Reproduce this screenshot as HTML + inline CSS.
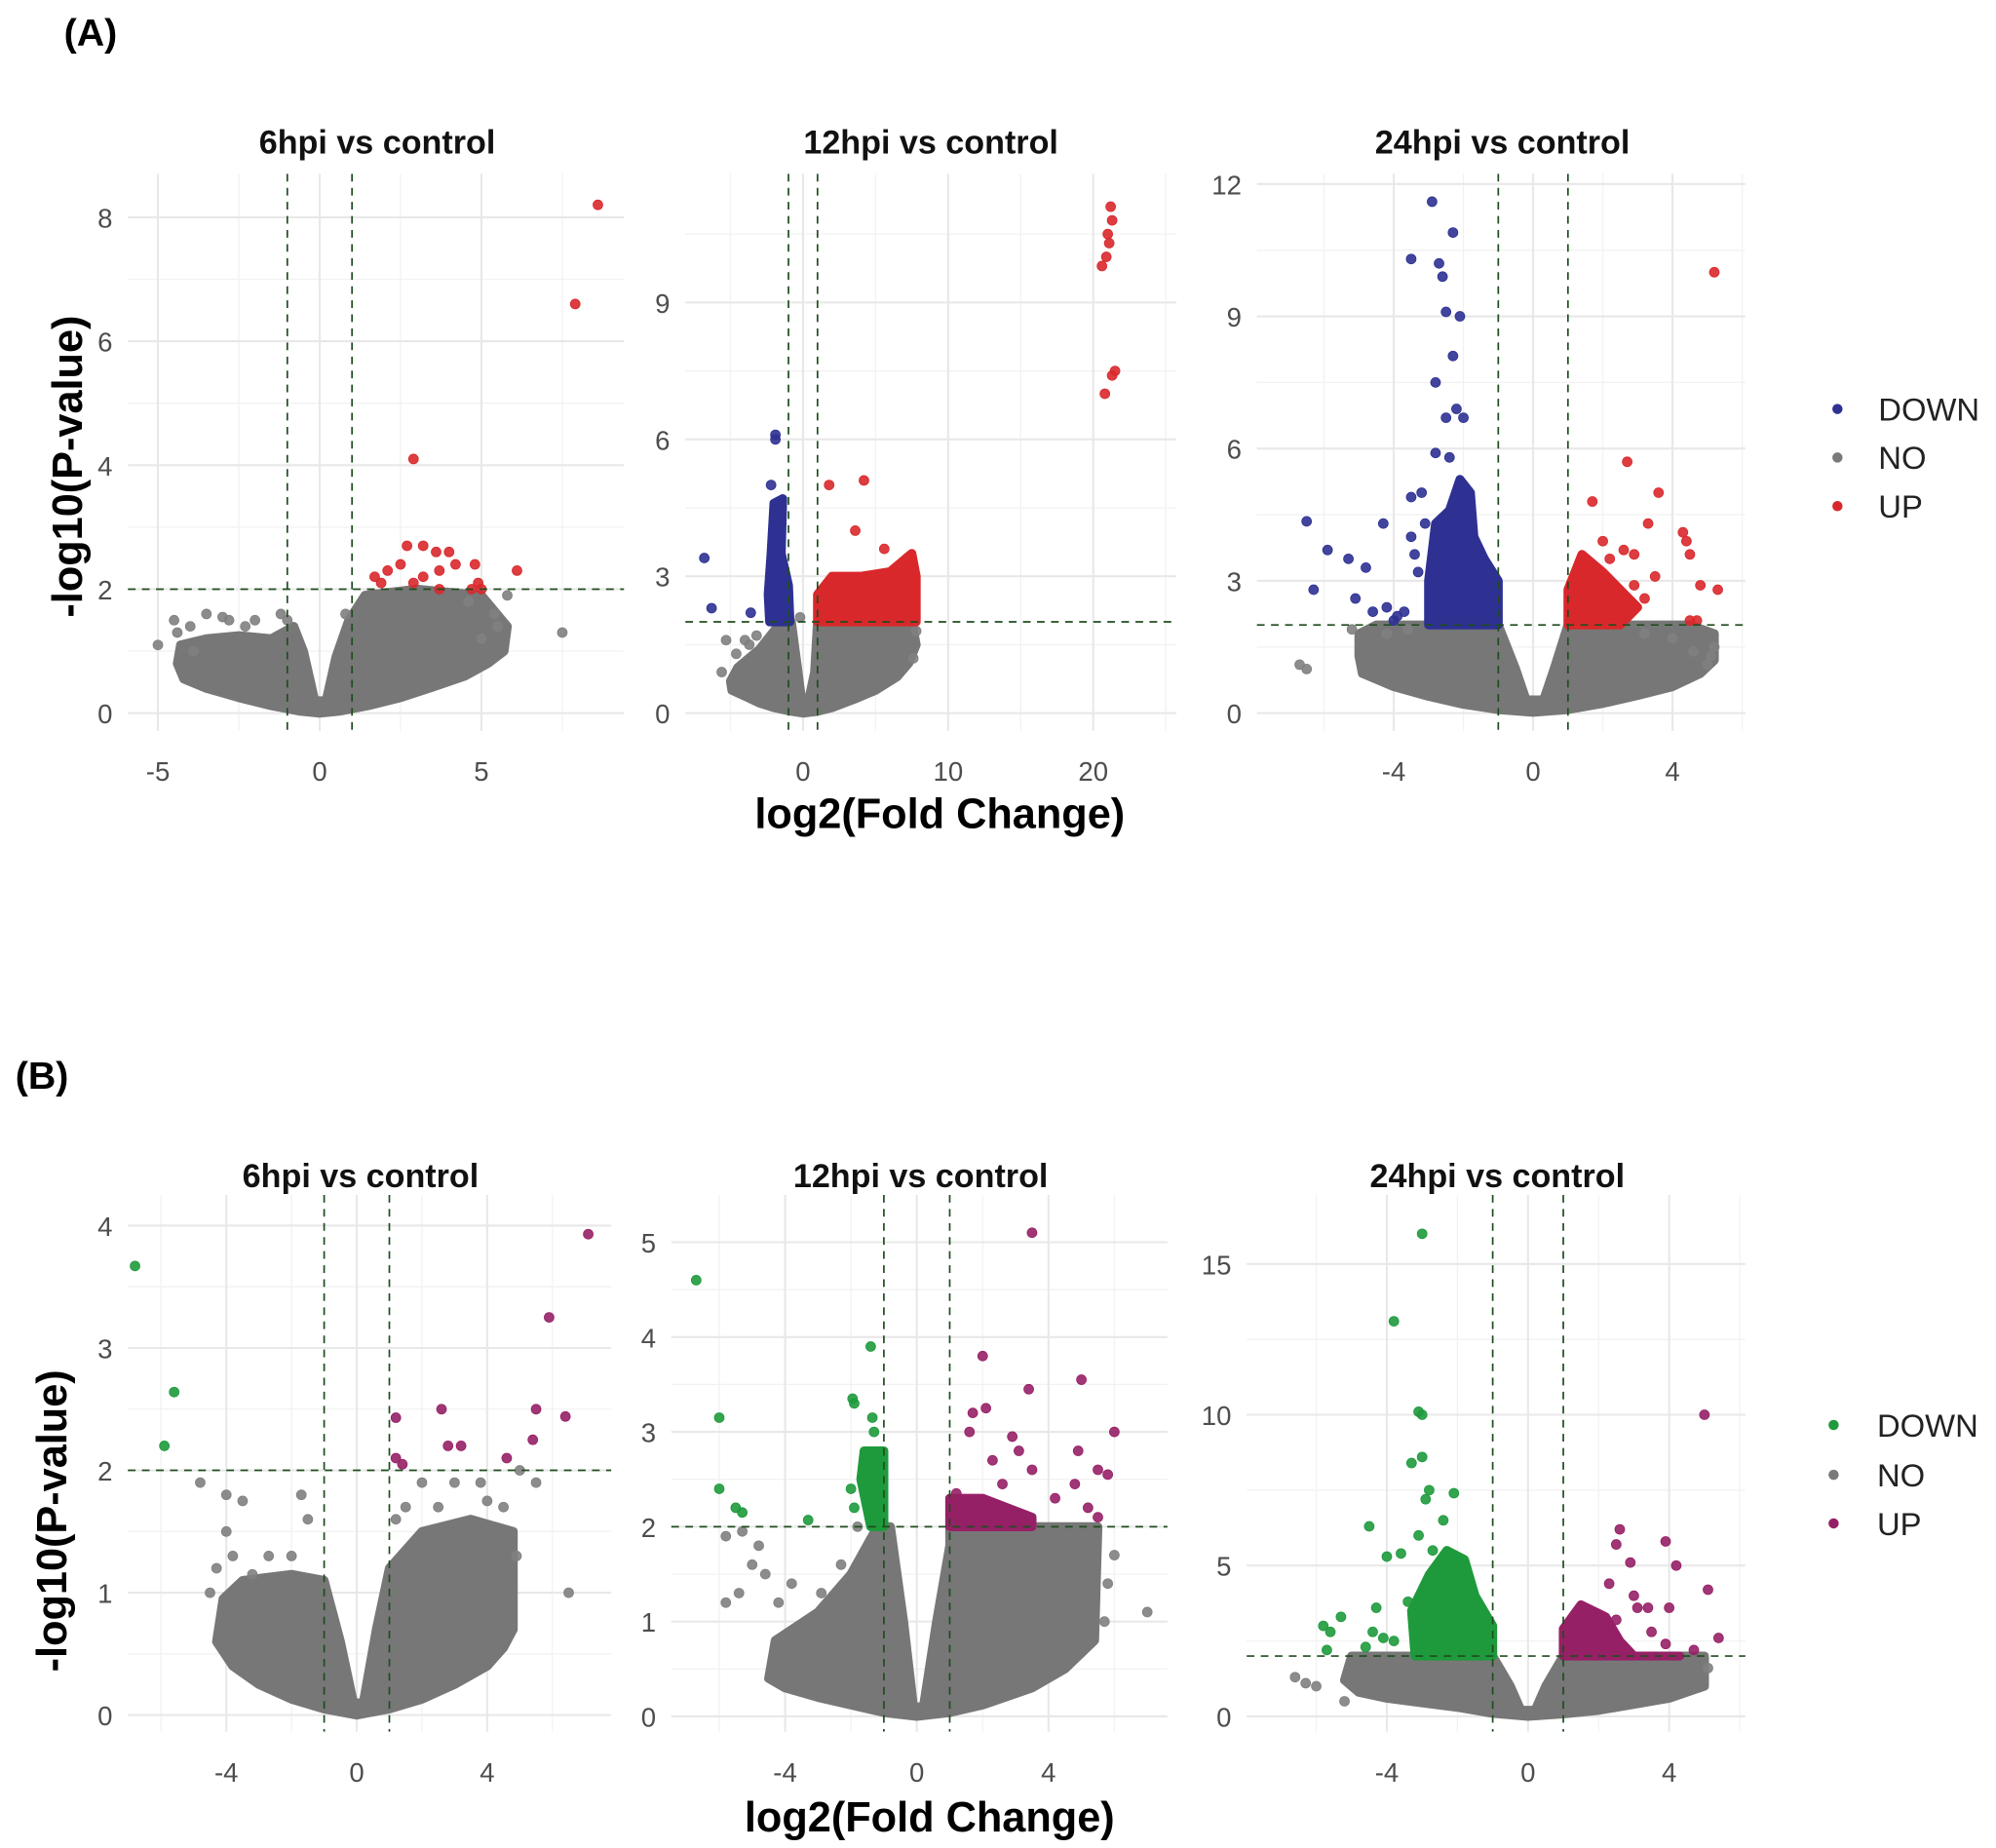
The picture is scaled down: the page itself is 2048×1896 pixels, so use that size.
<!DOCTYPE html>
<html><head><meta charset="utf-8"><style>
html,body{margin:0;padding:0;background:#fff}
svg{display:block}
text{font-family:"Liberation Sans",Arial,sans-serif}
</style></head><body>
<svg id="fig" width="2048" height="1896" viewBox="0 0 1561 1446" preserveAspectRatio="none" xmlns="http://www.w3.org/2000/svg">
<rect width="1561" height="1446" fill="#fff"/>
<text x="50" y="36" font-family="Liberation Serif,serif" font-weight="bold" font-size="30">(A)</text>
<text x="12" y="852" font-family="Liberation Serif,serif" font-weight="bold" font-size="30">(B)</text>
<text transform="translate(64,365) rotate(-90)" text-anchor="middle" font-weight="bold" font-size="33">-log10(P-value)</text>
<text transform="translate(52,1190) rotate(-90)" text-anchor="middle" font-weight="bold" font-size="33">-log10(P-value)</text>
<text x="735" y="648" text-anchor="middle" font-weight="bold" font-size="33">log2(Fold Change)</text>
<text x="727" y="1433" text-anchor="middle" font-weight="bold" font-size="33">log2(Fold Change)</text>
<g id="legA">
<circle cx="1437" cy="320" r="4" fill="#2e3192"/><text x="1469" y="329" font-size="25" fill="#222">DOWN</text>
<circle cx="1437" cy="358" r="4" fill="#7a7a7a"/><text x="1469" y="367" font-size="25" fill="#222">NO</text>
<circle cx="1437" cy="396" r="4" fill="#d9282b"/><text x="1469" y="405" font-size="25" fill="#222">UP</text>
</g>
<g id="legB">
<circle cx="1434" cy="1115" r="4" fill="#1e9a3c"/><text x="1468" y="1124" font-size="25" fill="#222">DOWN</text>
<circle cx="1434" cy="1154" r="4" fill="#7a7a7a"/><text x="1468" y="1163" font-size="25" fill="#222">NO</text>
<circle cx="1434" cy="1192" r="4" fill="#962066"/><text x="1468" y="1201" font-size="25" fill="#222">UP</text>
</g>
</svg>
<script>
// ---- Panel A1: 6hpi ----
const a1NoOutline=[[-4.4,0.8],[-4.3,1.1],[-3.5,1.2],[-2.5,1.25],[-1.5,1.2],[-0.8,1.4],[-0.5,1.0],[-0.15,0.2],[0.2,0.2],[0.5,0.9],[0.9,1.5],[1.4,1.9],[3,2.0],[5,1.9],[5.8,1.4],[5.7,1.0],[5.2,0.8],[4.5,0.6],[3.5,0.42],[2.5,0.25],[1.5,0.12],[0.6,0.03],[0,0],[-0.6,0.03],[-1.5,0.12],[-2.5,0.25],[-3.5,0.4],[-4.2,0.55]];
const a1NoPts=[[7.5,1.3],[5.8,1.9],[-5,1.1],[-4.5,1.5],[-3.5,1.6],[-2.8,1.5],[-2,1.5],[-1.2,1.6],[0.8,1.6],[5.5,1.4],[-4,1.4],[-3,1.55],[-4.4,1.3],[-3.9,1.0],[-2.3,1.4],[5.0,1.2],[5.4,1.6],[4.6,1.8],[-1.0,1.5]];
const a1UpPts=[[8.6,8.2],[7.9,6.6],[2.9,4.1],[2.7,2.7],[3.2,2.7],[3.6,2.6],[4.0,2.6],[2.5,2.4],[3.7,2.3],[4.2,2.4],[4.8,2.4],[2.1,2.3],[1.7,2.2],[1.9,2.1],[3.2,2.2],[2.9,2.1],[4.9,2.1],[5.0,2.0],[6.1,2.3],[3.7,2.0],[4.7,2.0]];
const a1DownPts=[];
// ---- Panel A2: 12hpi ----
const a2NoOutline=[[-5,0.7],[-4.5,1.0],[-3,1.4],[-1.5,2.0],[-0.8,2.0],[-0.3,0.8],[-0.1,0.3],[0.4,0.3],[0.8,0.9],[1,2.0],[7.5,2.0],[7.8,1.5],[7.3,1.1],[6.5,0.8],[5,0.5],[3.5,0.3],[2,0.12],[1,0.04],[0,0],[-1,0.05],[-2,0.12],[-3,0.22],[-4.2,0.4],[-4.9,0.5]];
const a2NoPts=[[-5.3,1.6],[-4,1.6],[-3.2,1.7],[-5.6,0.9],[7.6,1.2],[7.8,1.8],[-4.6,1.3],[-3.7,1.5],[-1.0,2.1],[-0.2,2.1]];
const a2DownMass=[[-2.3,2.0],[-2.4,2.6],[-2.2,3.5],[-2.0,4.6],[-1.4,4.7],[-1.5,3.5],[-1.0,2.8],[-0.9,2.0]];
const a2DownPts=[[-1.9,6.1],[-1.9,6.0],[-2.2,5.0],[-6.8,3.4],[-6.3,2.3],[-3.6,2.2],[-1.2,2.1]];
const a2UpMass=[[1,2.0],[1,2.6],[2,3.0],[4,3.0],[6,3.1],[7.5,3.5],[7.8,3.0],[7.8,2.0]];
const a2UpPts=[[1.8,5.0],[4.2,5.1],[3.6,4.0],[5.6,3.6],[6.5,3.2],[7.2,3.4],[21.2,11.1],[21.3,10.8],[21.0,10.5],[21.1,10.3],[20.9,10.0],[20.6,9.8],[21.5,7.5],[21.3,7.4],[20.8,7.0]];
// ---- Panel A3: 24hpi ----
const a3NoOutline=[[-5,1.8],[-4.5,2.0],[-1,2.0],[-0.5,1.0],[-0.2,0.3],[0.3,0.3],[0.6,1.0],[1,2.0],[4.5,2.0],[5.2,1.8],[5.2,1.2],[4.8,0.9],[4,0.6],[3,0.4],[2,0.22],[1,0.08],[0,0.02],[-1,0.08],[-2,0.2],[-3,0.38],[-4,0.6],[-4.9,0.9],[-5,1.3]];
const a3NoPts=[[-6.7,1.1],[-6.5,1.0],[5.2,1.5],[5.1,1.3],[-5.2,1.9],[-4.2,1.8],[-3.6,1.9],[3.2,1.8],[4.0,1.7],[4.6,1.4],[5.0,1.1]];
const a3DownMass=[[-3.0,2.0],[-3.0,3.0],[-2.8,4.3],[-2.4,4.6],[-2.1,5.3],[-1.8,5.0],[-1.7,4.0],[-1.4,3.5],[-1.0,3.0],[-1.0,2.0]];
const a3DownPts=[[-2.9,11.6],[-2.3,10.9],[-3.5,10.3],[-2.7,10.2],[-2.6,9.9],[-2.5,9.1],[-2.1,9.0],[-2.3,8.1],[-2.8,7.5],[-2.2,6.9],[-2.5,6.7],[-2.0,6.7],[-2.8,5.9],[-2.4,5.8],[-3.2,5.0],[-3.5,4.9],[-3.5,4.0],[-3.4,3.6],[-4.3,4.3],[-5.3,3.5],[-5.9,3.7],[-4.8,3.3],[-6.3,2.8],[-5.1,2.6],[-4.2,2.4],[-4.6,2.3],[-3.7,2.3],[-3.9,2.2],[-6.5,4.35],[-3.1,4.3],[-3.3,3.2],[-4.0,2.1]];
const a3UpMass=[[1,2.0],[1,2.8],[1.4,3.6],[2,3.2],[3,2.4],[2.5,2.0]];
const a3UpPts=[[5.2,10.0],[2.7,5.7],[3.6,5.0],[1.7,4.8],[3.3,4.3],[2.0,3.9],[2.6,3.7],[2.9,3.6],[4.3,4.1],[4.4,3.9],[4.5,3.6],[2.2,3.5],[3.5,3.1],[4.8,2.9],[5.3,2.8],[4.7,2.1],[4.5,2.1],[1.5,3.3],[2.9,2.9],[3.2,2.6]];
// ---- Panel B1 ----
const b1NoOutline=[[-4.3,0.6],[-4.1,0.95],[-3.5,1.1],[-2,1.15],[-1,1.1],[-0.5,0.6],[-0.1,0.1],[0.2,0.1],[0.6,0.7],[1,1.2],[2,1.5],[3.5,1.6],[4.8,1.5],[4.8,0.7],[4.5,0.55],[4,0.4],[3,0.25],[2,0.13],[1,0.05],[0,0],[-1,0.05],[-2,0.13],[-3,0.25],[-3.8,0.4]];
const b1NoPts=[[-4.8,1.9],[-4.0,1.8],[-3.5,1.75],[-4,1.5],[-1.7,1.8],[-1.5,1.6],[-4.5,1.0],[-3.8,1.3],[-2,1.3],[2,1.9],[3,1.9],[3.8,1.9],[5,2.0],[6.5,1.0],[5.5,1.9],[4.5,1.7],[1.5,1.7],[-2.7,1.3],[-3.2,1.15],[-4.3,1.2],[2.5,1.7],[4.0,1.75],[1.2,1.6],[4.9,1.3]];
const b1DownPts=[[-6.8,3.67],[-5.6,2.64],[-5.9,2.2]];
const b1UpPts=[[7.1,3.93],[5.9,3.25],[2.6,2.5],[5.5,2.5],[6.4,2.44],[1.2,2.43],[2.8,2.2],[3.2,2.2],[5.4,2.25],[4.6,2.1],[1.2,2.1],[1.4,2.05]];
// ---- Panel B2 ----
const b2NoOutline=[[-4.5,0.4],[-4.3,0.8],[-3,1.1],[-2,1.5],[-1.2,2.0],[-0.8,2.0],[-0.4,1.0],[-0.1,0.1],[0.2,0.1],[0.6,1.0],[1,1.8],[1,2.0],[5.5,2.0],[5.4,0.8],[4.5,0.5],[3.5,0.3],[2,0.12],[1,0.04],[0,0],[-1,0.04],[-2,0.12],[-3,0.2],[-4,0.3]];
const b2NoPts=[[-5.8,1.9],[-5.3,1.95],[-4.8,1.8],[-5.4,1.3],[-4.6,1.5],[-5.8,1.2],[-2.3,1.6],[7,1.1],[-1.8,2.0],[6,1.7],[5.8,1.4],[-3.8,1.4],[-4.2,1.2],[-5.0,1.6],[-2.9,1.3],[5.7,1.0]];
const b2DownMass=[[-1.4,2.0],[-1.7,2.5],[-1.6,2.8],[-1.0,2.8],[-1.0,2.0]];
const b2DownPts=[[-6.7,4.6],[-6.0,3.15],[-6.0,2.4],[-5.5,2.2],[-5.3,2.15],[-3.3,2.07],[-1.4,3.9],[-1.95,3.35],[-1.9,3.3],[-1.35,3.15],[-1.3,3.0],[-1.1,2.7],[-2.0,2.4],[-1.9,2.2]];
const b2UpMass=[[1,2],[1,2.3],[2.0,2.3],[3.5,2.1],[3.5,2.0]];
const b2UpPts=[[3.5,5.1],[2.0,3.8],[5.0,3.55],[3.4,3.45],[1.7,3.2],[2.1,3.25],[1.6,3.0],[2.9,2.95],[6.0,3.0],[3.1,2.8],[4.9,2.8],[2.3,2.7],[3.5,2.6],[5.5,2.6],[5.8,2.55],[2.6,2.45],[4.8,2.45],[1.2,2.35],[4.2,2.3],[1.6,2.2],[2.5,2.1],[5.2,2.2],[5.5,2.1],[1.9,2.1],[3.0,2.05]];
// ---- Panel B3 ----
const b3NoOutline=[[-5.2,1.2],[-5,2.0],[-1,2.0],[-0.5,1.0],[-0.2,0.2],[0.2,0.2],[0.5,1.0],[1,2.0],[5,2.0],[5,1.0],[4.5,0.8],[4,0.6],[3,0.4],[2,0.2],[1,0.08],[0,0],[-1,0.1],[-2,0.3],[-3,0.45],[-4,0.6],[-4.8,0.8]];
const b3NoPts=[[-6.6,1.3],[-6.3,1.1],[-6.0,1.0],[-5.2,0.5],[5.1,1.6]];
const b3DownMass=[[-3.2,2],[-3.3,3.5],[-2.8,4.7],[-2.3,5.5],[-1.8,5.2],[-1.5,4.0],[-1.0,3.0],[-1.0,2.0]];
const b3DownPts=[[-3.0,16.0],[-3.8,13.1],[-3.1,10.1],[-3.0,10.0],[-3.3,8.4],[-3.0,8.6],[-2.8,7.5],[-2.1,7.4],[-2.9,7.2],[-2.4,6.5],[-4.5,6.3],[-3.1,6.0],[-2.7,5.5],[-4.0,5.3],[-3.6,5.4],[-5.3,3.3],[-5.6,2.8],[-4.1,2.6],[-5.8,3.0],[-4.6,2.3],[-3.4,3.8],[-4.3,3.6],[-4.4,2.8],[-5.7,2.2],[-3.8,2.5]];
const b3UpMass=[[1,2],[1,2.9],[1.5,3.7],[2.2,3.3],[2.6,2.5],[3,2],[4.3,2]];
const b3UpPts=[[5.0,10.0],[2.6,6.2],[2.5,5.7],[3.9,5.8],[2.9,5.1],[4.2,5.0],[2.3,4.4],[3.0,4.0],[5.1,4.2],[3.4,3.6],[3.1,3.6],[2.5,3.2],[4.0,3.6],[5.4,2.6],[3.5,2.8],[4.7,2.2],[3.9,2.4]];

const titles=["6hpi vs control","12hpi vs control","24hpi vs control","6hpi vs control","12hpi vs control","24hpi vs control"];
const xTicksA1=[-5,0,5], yTicksA1=[0,2,4,6,8];
const xTicksA2=[0,10,20], yTicksA2=[0,3,6,9];
const xTicksA3=[-4,0,4], yTicksA3=[0,3,6,9,12];
const xTicksB1=[-4,0,4], yTicksB1=[0,1,2,3,4];
const xTicksB2=[-4,0,4], yTicksB2=[0,1,2,3,4,5];
const xTicksB3=[-4,0,4], yTicksB3=[0,5,10,15];

const NS="http://www.w3.org/2000/svg";
const svg=document.getElementById('fig');
function mk(tag,attrs,parent){const e=document.createElementNS(NS,tag);for(const k in attrs)e.setAttribute(k,attrs[k]);parent.appendChild(e);return e;}

const C={down1:"#2e3192",up1:"#d9282b",down2:"#1e9a3c",up2:"#962066",no:"#777777"};
const panels=[
 {id:"a1",x0:250,sx:25.3,y0:558,sy:48.5,L:100,R:488,T:136,B:572,xt:xTicksA1,yt:yTicksA1,xm:[-7.5,-2.5,2.5,7.5],ym:[1,3,5,7],ty:120,tx:295,
  no:a1NoOutline,noP:a1NoPts,dm:null,dp:a1DownPts,um:null,up:a1UpPts,dc:C.down1,uc:C.up1},
 {id:"a2",x0:628,sx:11.35,y0:558,sy:35.7,L:536,R:920,T:136,B:572,xt:xTicksA2,yt:yTicksA2,xm:[-5,5,15,25],ym:[1.5,4.5,7.5,10.5],ty:120,tx:728,
  no:a2NoOutline,noP:a2NoPts,dm:a2DownMass,dp:a2DownPts,um:a2UpMass,up:a2UpPts,dc:C.down1,uc:C.up1},
 {id:"a3",x0:1199,sx:27.25,y0:558,sy:34.5,L:983,R:1365,T:136,B:572,xt:xTicksA3,yt:yTicksA3,xm:[-6,-2,2,6],ym:[1.5,4.5,7.5,10.5],ty:120,tx:1175,
  no:a3NoOutline,noP:a3NoPts,dm:a3DownMass,dp:a3DownPts,um:a3UpMass,up:a3UpPts,dc:C.down1,uc:C.up1},
 {id:"b1",x0:279,sx:25.5,y0:1342,sy:95.75,L:100,R:478,T:935,B:1355,xt:xTicksB1,yt:yTicksB1,xm:[-6,-2,2,6],ym:[0.5,1.5,2.5,3.5],ty:929,tx:282,
  no:b1NoOutline,noP:b1NoPts,dm:null,dp:b1DownPts,um:null,up:b1UpPts,dc:C.down2,uc:C.up2},
 {id:"b2",x0:717,sx:25.75,y0:1343,sy:74.2,L:525,R:913,T:935,B:1355,xt:xTicksB2,yt:yTicksB2,xm:[-6,-2,2,6],ym:[0.5,1.5,2.5,3.5,4.5],ty:929,tx:720,
  no:b2NoOutline,noP:b2NoPts,dm:b2DownMass,dp:b2DownPts,um:b2UpMass,up:b2UpPts,dc:C.down2,uc:C.up2},
 {id:"b3",x0:1195,sx:27.6,y0:1343,sy:23.6,L:975,R:1365,T:935,B:1355,xt:xTicksB3,yt:yTicksB3,xm:[-6,-2,2,6],ym:[2.5,7.5,12.5],ty:929,tx:1171,
  no:b3NoOutline,noP:b3NoPts,dm:b3DownMass,dp:b3DownPts,um:b3UpMass,up:b3UpPts,dc:C.down2,uc:C.up2}
];
panels.forEach((p,i)=>{
 const X=v=>p.x0+p.sx*v, Y=v=>p.y0-p.sy*v;
 const g=mk('g',{},svg);
 
 
 const t=mk('text',{x:p.tx,y:p.ty,'text-anchor':'middle','font-weight':'bold','font-size':'26',fill:'#111'},g);
 t.textContent=titles[i];
 
 
 p.xm.forEach(v=>{const x=X(v);if(x>p.L&&x<p.R){const l=mk('line',{x1:x,x2:x,y1:p.T,y2:p.B,stroke:'#f2f2f2','stroke-width':1},g);}});
 p.ym.forEach(v=>{const y=Y(v);if(y>p.T&&y<p.B){const l=mk('line',{x1:p.L,x2:p.R,y1:y,y2:y,stroke:'#f2f2f2','stroke-width':1},g);}});
 p.xt.forEach(v=>{const x=X(v);const l=mk('line',{x1:x,x2:x,y1:p.T,y2:p.B,stroke:'#e8e8e8','stroke-width':1.6},g);
  
  
  const tt=mk('text',{x:x,y:p.B+39,'text-anchor':'middle','font-size':'21',fill:'#4d4d4d'},g);tt.textContent=String(v);
  
  });
 p.yt.forEach(v=>{const y=Y(v);const l=mk('line',{x1:p.L,x2:p.R,y1:y,y2:y,stroke:'#e8e8e8','stroke-width':1.6},g);
  
  
  const tt=mk('text',{x:p.L-12,y:y+8,'text-anchor':'end','font-size':'21',fill:'#4d4d4d'},g);tt.textContent=String(v);
  
  });
 const poly=(arr,col,name)=>{if(!arr)return;const e=mk('polygon',{points:arr.map(d=>X(d[0])+','+Y(d[1])).join(' '),fill:col,stroke:col,'stroke-width':7,'stroke-linejoin':'round'},g);
  
  };
 const pts=(arr,col,name)=>arr.forEach(d=>{const c=mk('circle',{cx:X(d[0]),cy:Y(d[1]),r:3.8,fill:col,'fill-opacity':0.9,stroke:col,'stroke-width':0.6},g);
  
  });
 poly(p.no,C.no,'no-cloud');
 pts(p.noP,'#808080','no-point');
 poly(p.dm,p.dc,'down-cloud');
 pts(p.dp,p.dc,'down-point');
 poly(p.um,p.uc,'up-cloud');
 pts(p.up,p.uc,'up-point');
 [-1,1].forEach(v=>{const l=mk('line',{x1:X(v),x2:X(v),y1:p.T,y2:p.B,stroke:'#1f4d1f','stroke-width':1.3,'stroke-dasharray':'6,5'},g);
  
  });
 const h=mk('line',{x1:p.L,x2:p.R,y1:Y(2),y2:Y(2),stroke:'#1f4d1f','stroke-width':1.3,'stroke-dasharray':'6,5'},g);
 
 
});
</script>
</body></html>
